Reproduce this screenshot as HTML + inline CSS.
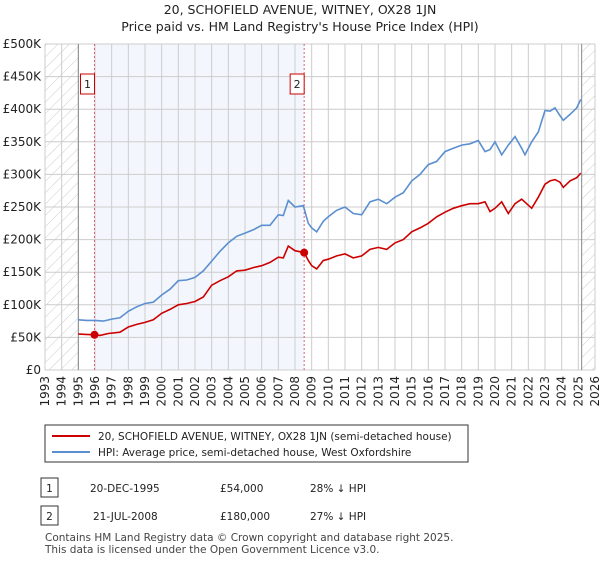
<!DOCTYPE html>
<html><head><meta charset="utf-8"><style>
body{margin:0;background:#fff;font-family:"Liberation Sans","DejaVu Sans",sans-serif;}
svg text{font-family:"DejaVu Sans","Liberation Sans",sans-serif;}
</style></head><body>
<svg id="c" width="600" height="560" xmlns="http://www.w3.org/2000/svg">
<defs><pattern id="hatch" width="8" height="8" patternUnits="userSpaceOnUse" patternTransform="rotate(45)"><line x1="0" y1="0" x2="0" y2="8" stroke="#ccc" stroke-width="1"/></pattern></defs>
<text x="300" y="14" text-anchor="middle" font-size="12.5" fill="#222">20, SCHOFIELD AVENUE, WITNEY, OX28 1JN</text>
<text x="300" y="31" text-anchor="middle" font-size="12.5" fill="#222">Price paid vs. HM Land Registry's House Price Index (HPI)</text>
<g id="plot"></g>
<rect x="45" y="425" width="423" height="37" fill="#fff" stroke="#333"/>
<line x1="52" y1="436" x2="90" y2="436" stroke="#cc0000" stroke-width="2"/>
<text x="98" y="440" font-size="10.5" fill="#222">20, SCHOFIELD AVENUE, WITNEY, OX28 1JN (semi-detached house)</text>
<line x1="52" y1="452" x2="90" y2="452" stroke="#5b8fd0" stroke-width="2"/>
<text x="98" y="456" font-size="10.5" fill="#222">HPI: Average price, semi-detached house, West Oxfordshire</text>
<rect x="41" y="478" width="17" height="19" fill="#fff" stroke="#333"/>
<text x="49.5" y="492" text-anchor="middle" font-size="10.5" fill="#222">1</text>
<text x="90" y="492" font-size="10.5" fill="#222">20-DEC-1995</text>
<text x="220" y="492" font-size="10.5" fill="#222">£54,000</text>
<text x="310" y="492" font-size="10.5" fill="#222">28% ↓ HPI</text>
<rect x="41" y="506" width="17" height="19" fill="#fff" stroke="#333"/>
<text x="49.5" y="520" text-anchor="middle" font-size="10.5" fill="#222">2</text>
<text x="93" y="520" font-size="10.5" fill="#222">21-JUL-2008</text>
<text x="220" y="520" font-size="10.5" fill="#222">£180,000</text>
<text x="310" y="520" font-size="10.5" fill="#222">27% ↓ HPI</text>
<text x="45" y="541" font-size="10.5" fill="#444">Contains HM Land Registry data © Crown copyright and database right 2025.</text>
<text x="45" y="553" font-size="10.5" fill="#444">This data is licensed under the Open Government Licence v3.0.</text>
</svg>
<script>
const yTicks=[0,50,100,150,200,250,300,350,400,450,500];
const yTickLabels=["£0","£50K","£100K","£150K","£200K","£250K","£300K","£350K","£400K","£450K","£500K"];
const xYears=[1993,1994,1995,1996,1997,1998,1999,2000,2001,2002,2003,2004,2005,2006,2007,2008,2009,2010,2011,2012,2013,2014,2015,2016,2017,2018,2019,2020,2021,2022,2023,2024,2025,2026];
const hpiT=[1995,1995.5,1996,1996.5,1997,1997.5,1998,1998.5,1999,1999.5,2000,2000.5,2001,2001.5,2002,2002.5,2003,2003.5,2004,2004.5,2005,2005.5,2006,2006.5,2007,2007.3,2007.6,2008,2008.5,2008.8,2009.0,2009.3,2009.7,2010,2010.5,2011,2011.5,2012,2012.5,2013,2013.5,2014,2014.5,2015,2015.5,2016,2016.5,2017,2017.5,2018,2018.5,2019,2019.4,2019.7,2020,2020.4,2020.8,2021.2,2021.6,2021.8,2022.2,2022.6,2023,2023.3,2023.6,2023.9,2024.1,2024.5,2024.9,2025.15];
const hpiV=[77,76,76,75,78,80,90,97,102,104,115,124,137,138,142,152,167,182,195,205,210,215,222,222,238,237,260,250,252,225,218,212,228,235,245,250,240,238,258,262,255,265,272,290,300,315,320,335,340,345,347,352,335,338,350,330,345,358,340,330,350,365,398,397,402,390,383,392,402,415];
const priceT=[1995,1995.97,1996.3,1996.8,1997.5,1998,1998.5,1999,1999.5,2000,2000.5,2001,2001.5,2002,2002.5,2003,2003.5,2004,2004.5,2005,2005.5,2006,2006.5,2007,2007.3,2007.6,2008,2008.55,2008.8,2009.0,2009.3,2009.7,2010,2010.5,2011,2011.5,2012,2012.5,2013,2013.5,2014,2014.5,2015,2015.5,2016,2016.5,2017,2017.5,2018,2018.5,2019,2019.4,2019.7,2020,2020.4,2020.8,2021.2,2021.6,2022.2,2022.6,2023,2023.3,2023.6,2023.9,2024.1,2024.5,2024.9,2025.15];
const priceV=[55,54,53,56,58,66,70,73,77,87,93,100,102,105,112,130,137,143,152,153,157,160,165,173,172,190,183,180,168,160,155,168,170,175,178,172,175,185,188,185,195,200,212,218,225,235,242,248,252,255,255,258,243,248,258,240,255,262,248,265,285,290,292,288,280,290,295,302];
const saleT=[1995.97,2008.55];
const saleV=[54,180];
const NS="http://www.w3.org/2000/svg";
const L=45,R=595,T=44,B=370;
const xs=y=>L+(y-1993)/33*(R-L);
const ys=v=>B-v/500*(B-T);
const g=document.getElementById('plot');
function mk(tag,a){const e=document.createElementNS(NS,tag);for(const k in a)e.setAttribute(k,a[k]);g.appendChild(e);return e;}
let e;
e=mk('rect',{x:xs(saleT[0]),y:T,width:xs(saleT[1])-xs(saleT[0]),height:B-T,fill:'#eef3fc',opacity:0.7});


e=mk('rect',{x:L,y:T,width:xs(1995)-L,height:B-T,fill:'url(#hatch)'});


e=mk('rect',{x:xs(2025.2),y:T,width:R-xs(2025.2),height:B-T,fill:'url(#hatch)'});


yTicks.forEach((v,i)=>{
 e=mk('line',{x1:L,x2:R,y1:ys(v),y2:ys(v),stroke:'#ccc'});
 
 
 e=mk('text',{x:L-4,y:ys(v)+4,'text-anchor':'end','font-size':'12',fill:'#222'});
 e.textContent=yTickLabels[i];
 
 
});
xYears.forEach(yr=>{
 e=mk('line',{x1:xs(yr),x2:xs(yr),y1:T,y2:B,stroke:'#ccc'});
 
 
 const x=xs(yr),y=B+6;
 e=mk('text',{x:x+4,y:y,'text-anchor':'end','font-size':'12',fill:'#222',transform:`rotate(-90 ${x+4} ${y})`});
 e.textContent=yr;
 
 
});
e=mk('line',{x1:xs(1995),x2:xs(1995),y1:T,y2:B,stroke:'#888'});


e=mk('line',{x1:xs(2025.2),x2:xs(2025.2),y1:T,y2:B,stroke:'#888'});


saleT.forEach((t,i)=>{
 e=mk('line',{x1:xs(t),x2:xs(t),y1:T,y2:B,stroke:'#e06070','stroke-dasharray':'2,2'});
 
 
 e=mk('rect',{x:xs(t)-14,y:74,width:14,height:20,fill:'#fff',stroke:'#cc0000'});
 
 
 e=mk('text',{x:xs(t)-7,y:88,'text-anchor':'middle','font-size':'11',fill:'#222'});
 e.textContent=String(i+1);
 
 
});
const pts=(T_,V_)=>T_.map((t,i)=>xs(t).toFixed(1)+','+ys(V_[i]).toFixed(1)).join(' ');
e=mk('polyline',{points:pts(hpiT,hpiV),fill:'none',stroke:'#5b8fd0','stroke-width':1.6});


e=mk('polyline',{points:pts(priceT,priceV),fill:'none',stroke:'#cc0000','stroke-width':1.6});


saleT.forEach((t,i)=>{
 e=mk('circle',{cx:xs(t),cy:ys(saleV[i]),r:4,fill:'#cc0000'});
 
 
});
</script>
</body></html>
